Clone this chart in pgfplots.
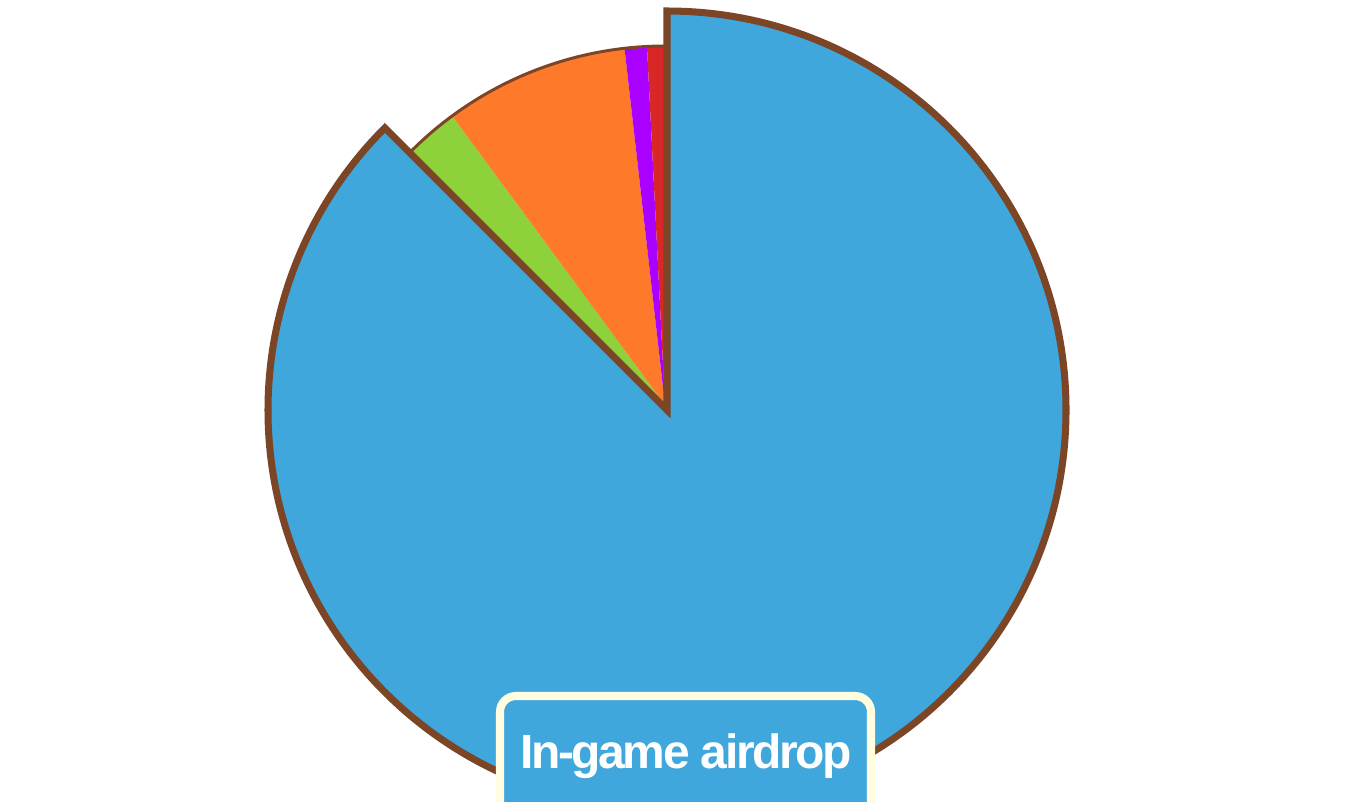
\documentclass[border=0pt]{standalone}
\usepackage{fontspec}
\setmainfont{Liberation Sans}
\newfontfamily\labelfont{Liberation Sans}[LetterSpace=-5]
\usepackage{pgfplots}
\pgfplotsset{compat=1.18}

\definecolor{sliceblue}{HTML}{3FA7DB}
\definecolor{slicegreen}{HTML}{8DD13B}
\definecolor{sliceorange}{HTML}{FF792A}
\definecolor{slicepurple}{HTML}{AA00FF}
\definecolor{slicered}{HTML}{D92626}
\definecolor{pieline}{HTML}{7B4526}
\definecolor{labelcream}{HTML}{FFFCE0}

% shares in percent, clockwise from 12 o'clock
\def\sBlue{87.5}
\def\sGreen{2.4}
\def\sOrange{8.3}
\def\sPurple{1.0}
\def\sRed{0.8}

\pgfmathsetmacro\aA{90-3.6*\sBlue}
\pgfmathsetmacro\aB{\aA-3.6*\sGreen}
\pgfmathsetmacro\aC{\aB-3.6*\sOrange}
\pgfmathsetmacro\aD{\aC-3.6*\sPurple}
\pgfmathsetmacro\aE{\aD-3.6*\sRed}

\begin{document}
\begin{tikzpicture}
  \begin{axis}[
      hide axis,
      scale only axis,
      width=13.68cm,
      height=8.01cm,
      xmin=0, xmax=1368,
      ymin=0, ymax=801,
      clip=true,
    ]
    % small slices (1 unit = 0.01cm)
    \fill[slicegreen] (axis cs:665,396) -- ++(\aA:3.59cm)
      arc[start angle=\aA, end angle=\aB, radius=3.59cm] -- cycle;
    \fill[sliceorange] (axis cs:665,396) -- ++(\aB:3.59cm)
      arc[start angle=\aB, end angle=\aC, radius=3.59cm] -- cycle;
    \fill[slicepurple] (axis cs:665,396) -- ++(\aC:3.59cm)
      arc[start angle=\aC, end angle=\aD, radius=3.59cm] -- cycle;
    \fill[slicered] (axis cs:665,396) -- ++(\aD:3.59cm)
      arc[start angle=\aD, end angle=\aE, radius=3.59cm] -- cycle;
    \draw[pieline, line width=0.85pt] (axis cs:665,396) ++(\aA:3.59cm)
      arc[start angle=\aA, end angle=\aE, radius=3.59cm];

    % highlighted slice, pulled out a little
    \filldraw[fill=sliceblue, draw=pieline, line width=2pt, line join=miter]
      (axis cs:667,391) -- ++(90:3.99cm)
      arc[start angle=90, end angle=\aA, radius=3.99cm] -- cycle;

    % tooltip label
    \draw[draw=labelcream, fill=sliceblue, line width=2.3pt, rounded corners=4.5pt]
      (axis cs:500,105) rectangle (axis cs:871,-30);
    \node[anchor=base, text=white, inner sep=0pt,
          font=\labelfont\bfseries\fontsize{13.66}{16}\selectfont]
      at (axis cs:686,33) {In-game airdrop};
  \end{axis}
  \pgfresetboundingbox
  \path (current axis.south west) rectangle (current axis.north east);
\end{tikzpicture}
\end{document}
